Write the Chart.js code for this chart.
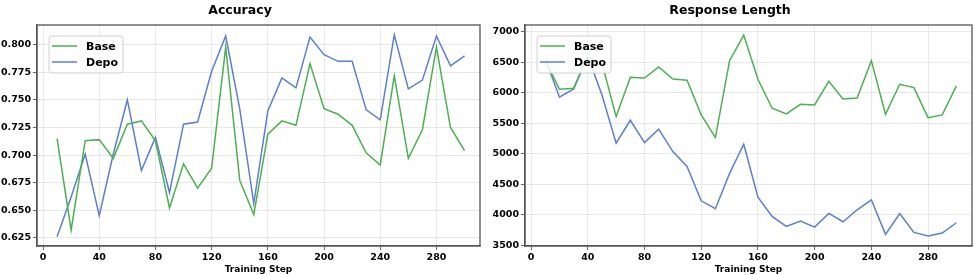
<!DOCTYPE html>
<html>
<head>
<meta charset="utf-8">
<script src="https://cdn.jsdelivr.net/npm/chart.js@4/dist/chart.umd.min.js"></script>
<style>
  html, body { margin: 0; padding: 0; background: #fff; }
  .box { position: absolute; top: 0; height: 275px; }
  #left { left: 0; width: 488px; }
  #right { left: 488px; width: 489px; }
</style>
</head>
<body>
<div class="box" id="left"><canvas id="chartAcc" width="488" height="275"></canvas></div>
<div class="box" id="right"><canvas id="chartLen" width="489" height="275"></canvas></div>
<script>
const steps = [10, 20, 30, 40, 50, 60, 70, 80, 90, 100, 110, 120, 130, 140, 150,
  160, 170, 180, 190, 200, 210, 220, 230, 240, 250, 260, 270, 280, 290, 300];

const accBase = [0.715, 0.632, 0.713, 0.714, 0.697, 0.728, 0.731, 0.713, 0.652, 0.692,
  0.670, 0.688, 0.798, 0.677, 0.646, 0.719, 0.731, 0.727, 0.783, 0.742,
  0.737, 0.727, 0.702, 0.691, 0.772, 0.697, 0.723, 0.798, 0.725, 0.704];
const accDepo = [0.626, 0.662, 0.701, 0.645, 0.701, 0.750, 0.686, 0.716, 0.666, 0.728,
  0.730, 0.776, 0.808, 0.742, 0.656, 0.740, 0.770, 0.761, 0.807, 0.791,
  0.785, 0.785, 0.741, 0.732, 0.809, 0.760, 0.768, 0.808, 0.781, 0.790];

const lenBase = [6530, 6057, 6073, 6590, 6482, 5610, 6253, 6242, 6422, 6226,
  6204, 5637, 5266, 6526, 6945, 6220, 5746, 5653, 5811, 5800,
  6188, 5899, 5915, 6526, 5648, 6139, 6084, 5593, 5637, 6112];
const lenDepo = [6560, 5928, 6064, 6600, 5964, 5174, 5550, 5184, 5403, 5037,
  4792, 4230, 4100, 4680, 5157, 4290, 3974, 3811, 3898, 3800,
  4023, 3887, 4083, 4247, 3680, 4023, 3713, 3653, 3702, 3871];

const xTicks = [0, 40, 80, 120, 160, 200, 240, 280];
const accTicks = [0.625, 0.650, 0.675, 0.700, 0.725, 0.750, 0.775, 0.800];
const lenTicks = [3500, 4000, 4500, 5000, 5500, 6000, 6500, 7000];

const seriesNames = ['Base', 'Depo'];
const colors = ['#4caf50', '#5b7fd1'];

const FONT = 'DejaVu Sans';

// frame round the plot area
const framePlugin = {
  id: 'frame',
  afterDatasetsDraw(chart) {
    const a = chart.chartArea, ctx = chart.ctx;
    ctx.save();
    ctx.strokeStyle = '#555';
    ctx.lineWidth = 1.3;
    ctx.strokeRect(a.left, a.top, a.right - a.left, a.bottom - a.top);
    ctx.restore();
  }
};

// legend box inside plot, top left
const innerLegend = {
  id: 'innerLegend',
  afterDatasetsDraw(chart) {
    const a = chart.chartArea, ctx = chart.ctx;
    const x = a.left + 12, y = a.top + 11, w = 74, h = 37;
    ctx.save();
    ctx.beginPath();
    ctx.roundRect(x, y, w, h, 3);
    ctx.fillStyle = 'rgba(255,255,255,0.85)';
    ctx.fill();
    ctx.strokeStyle = '#d0d0d0';
    ctx.lineWidth = 1;
    ctx.stroke();
    chart.data.datasets.forEach((ds, i) => {
      const ly = y + 10 + i * 16;
      ctx.beginPath();
      ctx.moveTo(x + 3, ly);
      ctx.lineTo(x + 28, ly);
      ctx.strokeStyle = ds.borderColor;
      ctx.lineWidth = 1.5;
      ctx.stroke();
      ctx.fillStyle = '#000';
      ctx.font = 'bold 11px "' + FONT + '"';
      ctx.textBaseline = 'middle';
      ctx.fillText(ds.label, x + 37, ly + 1);
    });
    ctx.restore();
  }
};

function makeChart(id, title, series, yTicks, yMin, yMax, fmt, padRight) {
  const ctx = document.getElementById(id);
  return new Chart(ctx.getContext('2d'), {
    type: 'line',
    data: {
      datasets: series.map((vals, i) => ({
        label: seriesNames[i],
        data: steps.map((s, j) => ({ x: s, y: vals[j] })),
        borderColor: colors[i],
        backgroundColor: colors[i],
        borderWidth: 1.5,
        pointRadius: 0,
        tension: 0,
        fill: false
      }))
    },
    options: {
      responsive: false,
      animation: false,
      devicePixelRatio: 1,
      layout: { padding: { left: 0, right: padRight, top: 0, bottom: 0 } },
      plugins: {
        legend: { display: false },
        tooltip: { enabled: false },
        title: {
          display: true,
          text: title,
          color: '#000',
          font: { family: FONT, size: 12.5, weight: 'bold', lineHeight: 1.2 },
          padding: { top: 3, bottom: 7 }
        }
      },
      scales: {
        x: {
          type: 'linear',
          min: -4.3,
          max: 311,
          afterBuildTicks: s => { s.ticks = xTicks.map(v => ({ value: v })); },
          afterFit: s => { s.height = 29; },
          grid: { color: '#e2e2e2', lineWidth: 0.8, tickLength: 4, tickColor: '#444' },
          border: { display: true, color: '#555', width: 1.3 },
          ticks: {
            color: '#000',
            padding: 2,
            maxRotation: 0,
            font: { family: FONT, size: 9.5, weight: 'bold' },
            callback: v => String(v)
          },
          title: {
            display: true,
            text: 'Training Step',
            color: '#000',
            padding: 0,
            font: { family: FONT, size: 9, weight: 'bold', lineHeight: 1.1 }
          }
        },
        y: {
          min: yMin,
          max: yMax,
          afterBuildTicks: s => { s.ticks = yTicks.map(v => ({ value: v })); },
          afterFit: s => { s.width = 37; },
          grid: { color: '#e2e2e2', lineWidth: 0.8, tickLength: 4, tickColor: '#444' },
          border: { display: true, color: '#555', width: 1.3 },
          ticks: {
            color: '#000',
            padding: 2,
            font: { family: FONT, size: 9.5, weight: 'bold' },
            callback: fmt
          }
        }
      }
    },
    plugins: [framePlugin, innerLegend]
  });
}

makeChart('chartAcc', 'Accuracy', [accBase, accDepo], accTicks, 0.6175, 0.818,
  v => Number(v).toFixed(3), 8);
makeChart('chartLen', 'Response Length', [lenBase, lenDepo], lenTicks, 3490, 7110,
  v => String(v), 5);
</script>
</body>
</html>
